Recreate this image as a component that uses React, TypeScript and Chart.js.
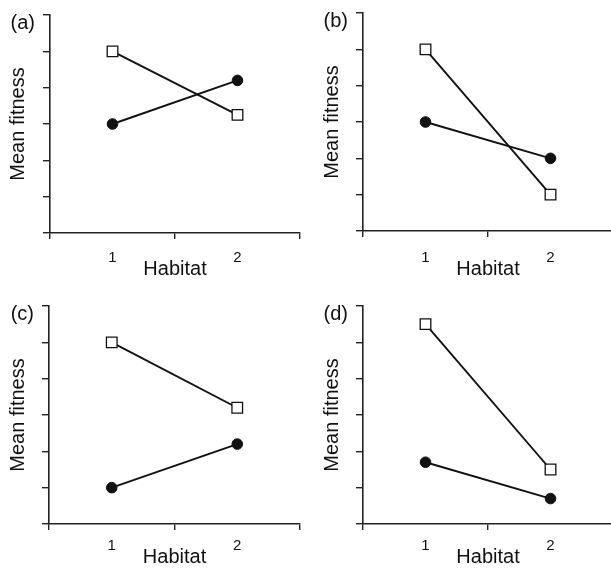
import React, { useEffect, useRef } from "react";
import { Chart, registerables } from "chart.js";

Chart.register(...registerables);

const habitats = ["1", "2"];
const panelLabels = ["(a)", "(b)", "(c)", "(d)"];
const yTicks = [0, 1, 2, 3, 4, 5, 6];

const squareA = [5, 3.25];
const circleA = [3, 4.2];
const squareB = [5, 1];
const circleB = [3, 2];
const squareC = [5, 3.2];
const circleC = [1, 2.2];
const squareD = [5.5, 1.5];
const circleD = [1.7, 0.7];

const FONT = "'Liberation Sans', Arial, Helvetica, sans-serif";

type Box = {
  left: number; top: number; width: number; height: number;
  cLeft: number; cTop: number; cRight: number; cBottom: number;
  tickPad: number; titlePad: number; yTitlePad: number;
};

const boxes: Box[] = [
  { left: 0, top: 0, width: 311, height: 285, cLeft: 50, cTop: 15, cRight: 300, cBottom: 233, tickPad: 10, titlePad: 3.5, yTitlePad: 6 },
  { left: 311, top: 0, width: 306, height: 285, cLeft: 52, cTop: 13, cRight: 302, cBottom: 231, tickPad: 12, titlePad: 3.5, yTitlePad: 9 },
  { left: 0, top: 291, width: 311, height: 278, cLeft: 49, cTop: 15, cRight: 300, cBottom: 233, tickPad: 7, titlePad: 0, yTitlePad: 6 },
  { left: 311, top: 291, width: 306, height: 278, cLeft: 52, cTop: 15, cRight: 302, cBottom: 233, tickPad: 7, titlePad: 0, yTitlePad: 9 },
];

const seriesSets = [
  [squareA, circleA],
  [squareB, circleB],
  [squareC, circleC],
  [squareD, circleD],
];

function Panel({ idx }: { idx: number }) {
  const ref = useRef<HTMLCanvasElement>(null);
  const b = boxes[idx];
  useEffect(() => {
    if (!ref.current) return;
    const [sq, ci] = seriesSets[idx];
    const labelPlugin = {
      id: "panelLabel",
      afterDraw(chart: any) {
        const ctx = chart.ctx;
        ctx.save();
        ctx.font = `20px ${FONT}`;
        ctx.fillStyle = "#111";
        ctx.textAlign = "right";
        ctx.textBaseline = "alphabetic";
        ctx.fillText(panelLabels[idx], chart.chartArea.left - 15, chart.chartArea.top + 14);
        ctx.restore();
      },
    };
    const chart = new Chart(ref.current, {
      type: "line",
      data: {
        labels: habitats,
        datasets: [
          {
            label: "square",
            data: sq,
            borderColor: "#111",
            borderWidth: 1.9,
            pointStyle: "rect",
            pointRadius: 7.5,
            pointBackgroundColor: "#fff",
            pointBorderColor: "#111",
            pointBorderWidth: 1.3,
            tension: 0,
            clip: false,
          },
          {
            label: "circle",
            data: ci,
            borderColor: "#111",
            borderWidth: 1.9,
            pointStyle: "circle",
            pointRadius: 5.3,
            pointBackgroundColor: "#111",
            pointBorderColor: "#111",
            pointBorderWidth: 1,
            tension: 0,
            clip: false,
          },
        ],
      },
      options: {
        animation: false,
        responsive: false,
        maintainAspectRatio: false,
        devicePixelRatio: 1,
        layout: { autoPadding: false, padding: { top: b.cTop, right: b.width - b.cRight, left: 0, bottom: 0 } },
        plugins: { legend: { display: false }, tooltip: { enabled: false }, title: { display: false } },
        scales: {
          x: {
            type: "category",
            offset: true,
            grid: { offset: true, drawOnChartArea: false, drawTicks: true, tickLength: 6, color: "#222", lineWidth: 1.4 },
            border: { display: true, color: "#222", width: 1.6 },
            ticks: { color: "#111", font: { family: FONT, size: 15 }, padding: b.tickPad, maxRotation: 0 },
            title: { display: true, text: "Habitat", color: "#111", font: { family: FONT, size: 20 }, padding: { top: 0, bottom: b.titlePad } },
            afterFit: (s: any) => {
              s.height = b.height - b.cBottom;
              s.paddingLeft = 0;
              s.paddingRight = 0;
            },
          },
          y: {
            type: "linear",
            min: yTicks[0],
            max: yTicks[yTicks.length - 1],
            afterBuildTicks: (s: any) => { s.ticks = yTicks.map((v) => ({ value: v })); },
            grid: { drawOnChartArea: false, drawTicks: true, tickLength: 7, color: "#222", lineWidth: 1.4 },
            border: { display: true, color: "#222", width: 1.6 },
            ticks: { display: false },
            title: { display: true, text: "Mean fitness", color: "#111", font: { family: FONT, size: 20 }, padding: { top: b.yTitlePad, bottom: 0 } },
            afterFit: (s: any) => {
              s.width = b.cLeft;
              s.paddingTop = 0;
              s.paddingBottom = 0;
            },
          },
        },
      },
      plugins: [labelPlugin],
    } as any);
    return () => chart.destroy();
  }, [idx]);
  return (
    <div style={{ position: "absolute", left: b.left, top: b.top, width: b.width, height: b.height }}>
      <canvas ref={ref} width={b.width} height={b.height} style={{ display: "block", width: b.width, height: b.height }} />
    </div>
  );
}

export default function App() {
  return (
    <div style={{ position: "absolute", left: 0, top: 0, width: 611, height: 569, overflow: "hidden", background: "#fff" }}>
      {[0, 1, 2, 3].map((i) => (
        <Panel key={i} idx={i} />
      ))}
    </div>
  );
}
